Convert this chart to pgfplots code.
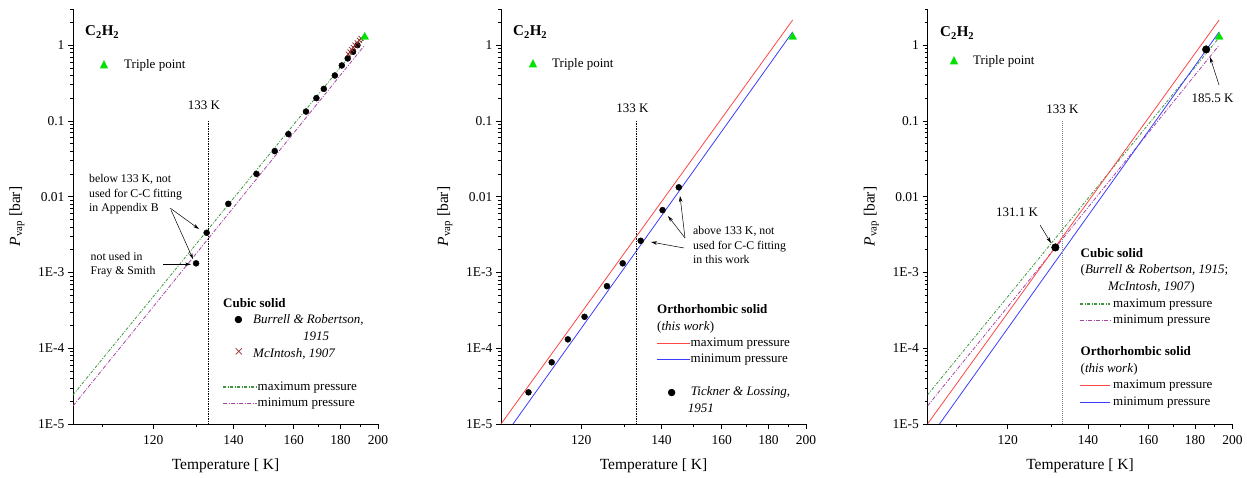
\documentclass[border=0pt]{standalone}
\usepackage{fontspec}
\setmainfont{Liberation Serif}
\newfontfamily\dejavu{DejaVu Sans}
\usepackage{pgfplots}
\pgfplotsset{compat=1.18}
\usepackage{pgfplotstable}
\usetikzlibrary{arrows.meta}

\definecolor{cmax}{RGB}{60,150,60}
\definecolor{cmin}{RGB}{165,70,165}
\definecolor{omax}{RGB}{255,70,70}
\definecolor{omin}{RGB}{60,60,255}
\definecolor{tpgreen}{RGB}{0,225,0}
\definecolor{mcbrown}{RGB}{150,40,40}

% Burrell & Robertson, 1915 (cubic solid)
\pgfplotstableread{
T P
129.9 1.32e-3
132.6 3.34e-3
138.5 8.06e-3
147.0 0.0200
153.1 0.0400
158.0 0.0670
164.8 0.133
169.1 0.200
172.3 0.265
177.3 0.398
180.6 0.540
183.5 0.668
186.2 0.816
188.5 1.000
}\burrell

% McIntosh, 1907
\pgfplotstableread{
T P
183.8 0.76
184.7 0.816
185.5 0.877
186.4 0.93
187.2 1.00
188.4 1.07
189.5 1.16
190.4 1.23
}\mcintosh

% Tickner & Lossing, 1951
\pgfplotstableread{
T P
109.7 2.62e-5
114.0 6.52e-5
117.2 1.31e-4
120.7 2.60e-4
125.75 6.6e-4
129.55 1.32e-3
134.2 2.62e-3
140.3 6.65e-3
145.2 0.0133
}\tickner

\pgfplotstableread{
T P
131.1 2.14e-3
185.5 0.877
}\fitpts

\pgfplotstableread{
T P
192.4 1.28
}\triple

% cubic solid, max / min pressure
\pgfplotstableread{
T Pmax Pmin
105 2.42e-5 1.73e-5
192.4 1.26 1.00
}\cubic

% orthorhombic solid, max / min pressure
\pgfplotstableread{
T P
105 1e-5
192.4 2.15
}\orthomax
\pgfplotstableread{
T P
107 1e-5
192.4 1.5
}\orthomin

\pgfplotsset{every axis/.append style={
    scale only axis, width=305pt, height=415pt,
    xmin=-9.5238, xmax=-5, ymin=1e-5, ymax=3,
    axis lines=left, axis line style={-, line width=0.7pt},
    tick align=outside, major tick length=5pt, minor tick length=3pt,
    tick style={black, line width=0.6pt},
    xtick={-8.333333,-7.142857,-6.25,-5.555556,-5},
    xticklabels={120,140,160,180,200},
    minor xtick={-9.090909,-7.692308,-6.666667,-5.882353,-5.263158},
    ytick={1e-5,1e-4,1e-3,1e-2,1e-1,1},
    yticklabels={1E-5,1E-4,1E-3,0.01,0.1,1},
    minor ytick={2e-5,3e-5,4e-5,5e-5,6e-5,7e-5,8e-5,9e-5,
                 2e-4,3e-4,4e-4,5e-4,6e-4,7e-4,8e-4,9e-4,
                 2e-3,3e-3,4e-3,5e-3,6e-3,7e-3,8e-3,9e-3,
                 0.02,0.03,0.04,0.05,0.06,0.07,0.08,0.09,
                 0.2,0.3,0.4,0.5,0.6,0.7,0.8,0.9,2,3},
    tick label style={font=\fontsize{13.5}{15}\selectfont},
    xticklabel style={yshift=-3pt},
    xlabel={Temperature [ K]},
    ylabel={\textit{P}\textsubscript{vap} [bar]},
    xlabel style={at={(axis description cs:0.5,-0.1012)}, anchor=center, font=\fontsize{15.5}{18}\selectfont},
    ylabel style={at={(axis description cs:-0.184,0.5)}, anchor=center, font=\fontsize{15.5}{18}\selectfont},
}}

\tikzset{
  cmaxline/.style={cmax, line width=0.8pt, dash pattern=on 3pt off 1.5pt on 1pt off 1.5pt},
  cminline/.style={cmin, line width=0.8pt, dash pattern=on 4pt off 1.5pt on 1pt off 1.5pt},
  omaxline/.style={omax, line width=0.8pt},
  ominline/.style={omin, line width=0.8pt},
  key/.style={line width=1.2pt},
}

\begin{document}
\begin{tikzpicture}
\useasboundingbox (0,0) rectangle (1247pt,477pt);

% ---------------- panel 1: cubic solid data
\begin{semilogyaxis}[at={(73pt,53pt)}, anchor=south west]
\addplot[cmaxline] table[x expr=-1000/\thisrow{T}, y=Pmax] {\cubic};
\addplot[cminline] table[x expr=-1000/\thisrow{T}, y=Pmin] {\cubic};
\addplot[only marks, mark=*, mark size=3pt, black] table[x expr=-1000/\thisrow{T}, y=P] {\burrell};
\addplot[only marks, mark=x, mark size=3.5pt, mcbrown, line width=0.7pt] table[x expr=-1000/\thisrow{T}, y=P] {\mcintosh};
\addplot[only marks, mark=triangle*, mark size=4.5pt, tpgreen] table[x expr=-1000/\thisrow{T}, y=P] {\triple};
\draw[line width=0.6pt, dash pattern=on 1.5pt off 1pt] (axis cs:-7.518797,0.1) -- (axis cs:-7.518797,1e-5);
\end{semilogyaxis}

% ---------------- panel 2: orthorhombic solid
\begin{semilogyaxis}[at={(501pt,53pt)}, anchor=south west]
\addplot[omaxline] table[x expr=-1000/\thisrow{T}, y=P] {\orthomax};
\addplot[ominline] table[x expr=-1000/\thisrow{T}, y=P] {\orthomin};
\addplot[only marks, mark=*, mark size=3pt, black] table[x expr=-1000/\thisrow{T}, y=P] {\tickner};
\addplot[only marks, mark=triangle*, mark size=4.5pt, tpgreen] table[x expr=-1000/\thisrow{T}, y=P] {\triple};
\draw[line width=0.6pt, dash pattern=on 1.5pt off 1pt] (axis cs:-7.518797,0.1) -- (axis cs:-7.518797,1e-5);
\end{semilogyaxis}

% ---------------- panel 3: both phases
\begin{semilogyaxis}[at={(927.5pt,53pt)}, anchor=south west]
\addplot[cmaxline] table[x expr=-1000/\thisrow{T}, y=Pmax] {\cubic};
\addplot[cminline] table[x expr=-1000/\thisrow{T}, y=Pmin] {\cubic};
\addplot[omaxline] table[x expr=-1000/\thisrow{T}, y=P] {\orthomax};
\addplot[ominline] table[x expr=-1000/\thisrow{T}, y=P] {\orthomin};
\addplot[only marks, mark=*, mark size=3.8pt, black] table[x expr=-1000/\thisrow{T}, y=P] {\fitpts};
\addplot[only marks, mark=triangle*, mark size=4.5pt, tpgreen] table[x expr=-1000/\thisrow{T}, y=P] {\triple};
\draw[gray, line width=0.6pt, dash pattern=on 1pt off 1pt] (axis cs:-7.518797,0.1) -- (axis cs:-7.518797,1e-5);
\end{semilogyaxis}

% ---------------- texts, legends and arrows (picture coordinates, y down)
\begin{scope}[shift={(0pt,477pt)}, x=1pt, y=-1pt]
  \tikzset{lbl/.style={inner sep=0pt, font=\fontsize{13}{15}\selectfont},
           lg/.style={inner sep=0pt, anchor=west, text height=9pt, text depth=3pt, font=\fontsize{13}{15}\selectfont},
           ann/.style={inner sep=0pt, align=left, anchor=west, font=\fontsize{11.8}{14.5}\selectfont},
           arr/.style={line width=0.5pt, -{Stealth[length=6pt,width=3.5pt]}},
           dotkey/.style={inner sep=0pt, font=\dejavu\fontsize{9.5}{11}\selectfont},
           crosskey/.style={inner sep=0pt, text=mcbrown, font=\fontsize{17}{19}\selectfont}}
  \foreach \cx/\cy/\tx/\ty/\px in {85/32/104/65/124, 513/32/533/64/552, 940/33/954/61/973}{
    \node[anchor=west, inner sep=0pt, font=\fontsize{15}{18}\selectfont\bfseries] at (\cx,\cy) {C\textsubscript{2}H\textsubscript{2}};
    \node[inner sep=0pt, text=tpgreen, font=\dejavu\fontsize{11}{13}\selectfont] at (\tx,\ty) {▲};
    \node[lbl, anchor=west] at (\px,\ty) {Triple point};
  }
  \node[lbl] at (204,105) {133 K};
  \node[lbl] at (632.5,108) {133 K};
  \node[lbl] at (1062.5,109) {133 K};

  % legend, panel 1
  \node[lg] at (223,304) {\textbf{Cubic solid}};
  \node[dotkey] at (238.5,320) {●};
  \node[lg] at (253,320) {\textit{Burrell \& Robertson,}};
  \node[lg] at (303,337) {\textit{1915}};
  \node[crosskey] at (239,353) {×};
  \node[lg] at (253,354) {\textit{McIntosh, 1907}};
  \draw[cmaxline, key] (223,387) -- (257,387);
  \node[lg] at (257.5,387) {maximum pressure};
  \draw[cminline, key] (223,403.5) -- (257,403.5);
  \node[lg] at (257.5,403.5) {minimum pressure};

  % legend, panel 2
  \node[lg] at (657,310) {\textbf{Orthorhombic solid}};
  \node[lg] at (657,327) {(\textit{this work})};
  \draw[omaxline, key] (657,343.5) -- (690,343.5);
  \node[lg] at (690.5,343.5) {maximum pressure};
  \draw[ominline, key] (657,359.5) -- (690,359.5);
  \node[lg] at (690.5,359.5) {minimum pressure};
  \node[dotkey] at (671.7,392.7) {●};
  \node[lg] at (690.7,392.7) {\textit{Tickner \& Lossing,}};
  \node[lg] at (687.7,409.3) {\textit{1951}};

  % legend, panel 3
  \node[lg] at (1080.5,255) {\textbf{Cubic solid}};
  \node[lg] at (1080.5,271) {(\textit{Burrell \& Robertson, 1915};};
  \node[lg] at (1108,287.3) {\textit{McIntosh, 1907})};
  \draw[cmaxline, key] (1080,304) -- (1110,304);
  \node[lg] at (1113,304) {maximum pressure};
  \draw[cminline, key] (1080,320.5) -- (1110,320.5);
  \node[lg] at (1113,320.5) {minimum pressure};
  \node[lg] at (1080.5,352.7) {\textbf{Orthorhombic solid}};
  \node[lg] at (1080.5,369) {(\textit{this work})};
  \draw[omaxline, key] (1080,385.5) -- (1110,385.5);
  \node[lg] at (1113,385.5) {maximum pressure};
  \draw[ominline, key] (1080,402.5) -- (1110,402.5);
  \node[lg] at (1113,402.5) {minimum pressure};

  % panel 1 notes
  \node[ann] at (89,194.5) {below 133 K, not\\used for C-C fitting\\in Appendix B};
  \draw[arr] (170,208) -- (199,229);
  \draw[arr] (171,210) -- (193,259);
  \node[ann] at (90.5,264.5) {not used in\\Fray \& Smith};
  \draw[arr] (163,264.3) -- (191,264.3);

  % panel 2 notes
  \node[ann] at (693,245) {above 133 K, not\\used for C-C fitting\\in this work};
  \draw[arr] (685,238) -- (680,196);
  \draw[arr] (685,238) -- (668,216);
  \draw[arr] (684,248) -- (651,242);

  % panel 3 notes
  \node[lbl] at (1017,212.3) {131.1 K};
  \draw[arr] (1040,225) -- (1051,243);
  \node[lbl] at (1212.5,98.3) {185.5 K};
  \draw[arr] (1219,85) -- (1210,57);
\end{scope}
\end{tikzpicture}
\end{document}
